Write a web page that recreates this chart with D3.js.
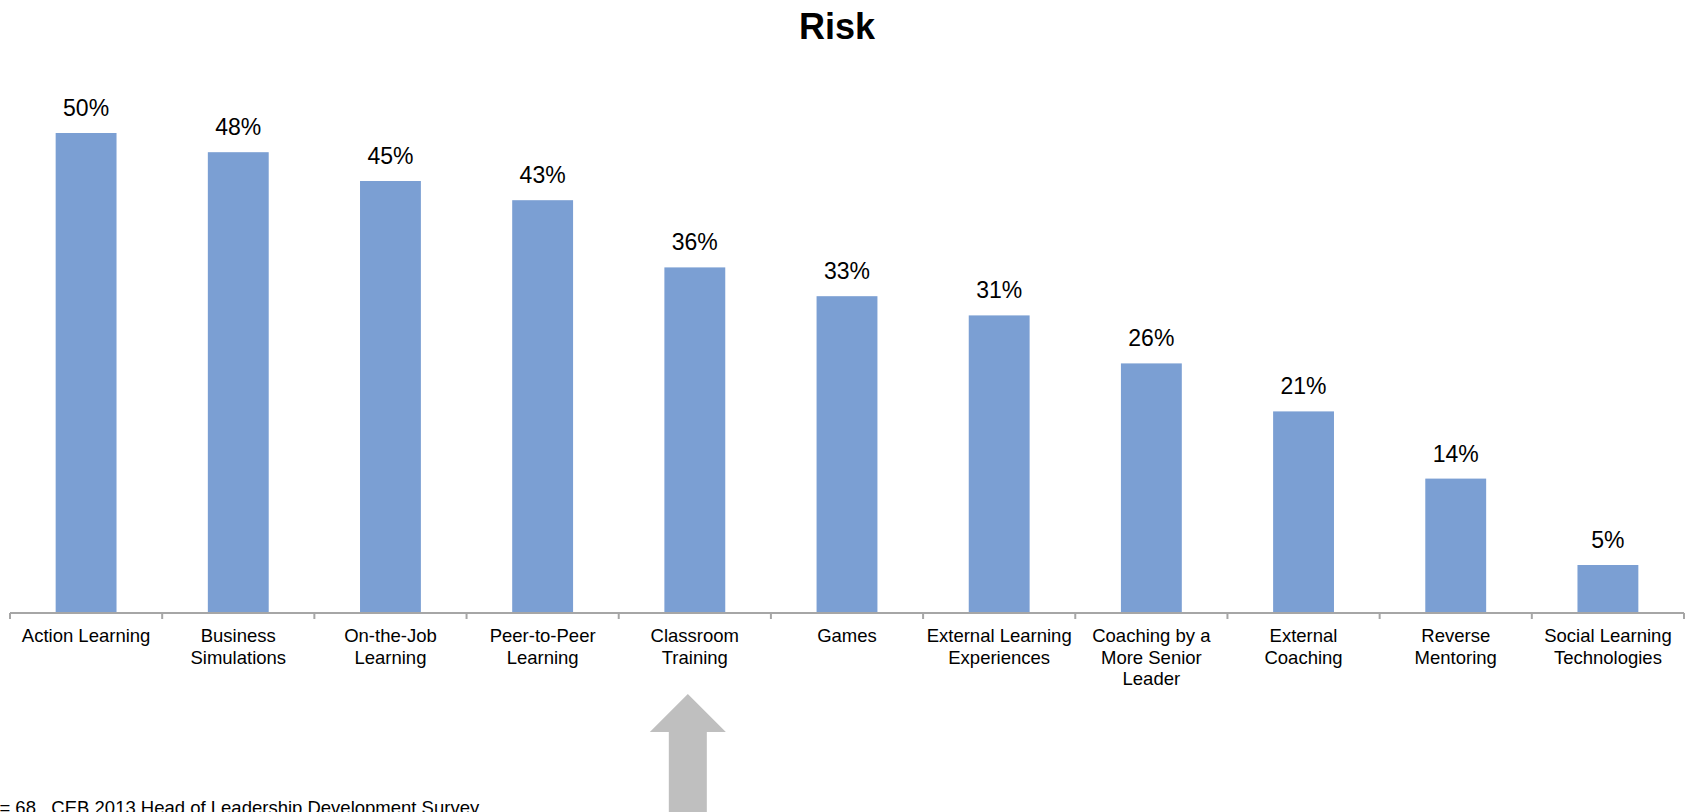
<!DOCTYPE html>
<html>
<head>
<meta charset="utf-8">
<script src="https://cdn.jsdelivr.net/npm/d3@7/dist/d3.min.js"></script>
<style>
  html, body { margin: 0; padding: 0; background: #ffffff; overflow: hidden; }
  svg { display: block; font-family: "Liberation Sans", Arial, sans-serif; }
</style>
</head>
<body>
<svg id="chart" width="1689" height="812"></svg>
<script>
// Learning approaches (multi-line labels split on "\n")
const categories = [
  "Action Learning",
  "Business\nSimulations",
  "On-the-Job\nLearning",
  "Peer-to-Peer\nLearning",
  "Classroom\nTraining",
  "Games",
  "External Learning\nExperiences",
  "Coaching by a\nMore Senior\nLeader",
  "External\nCoaching",
  "Reverse\nMentoring",
  "Social Learning\nTechnologies"
];
// Share of respondents (%)
const riskValues = [50, 48, 45, 43, 36, 33, 31, 26, 21, 14, 5];
const titleText = "Risk";
const footnoteText = "n = 68   CEB 2013 Head of Leadership Development Survey";
const highlighted = "Classroom\nTraining";

const svg = d3.select("#chart");

const x = d3.scaleBand().domain(categories).range([10, 1684]).padding(0);
const y = d3.scaleLinear().domain([0, 60]).range([613, 37]);
const barWidth = x.bandwidth() * 0.4;

// Title
svg.append("text")
  .attr("x", 837).attr("y", 39)
  .attr("text-anchor", "middle")
  .attr("font-size", 36).attr("font-weight", "bold")
  .attr("fill", "#000")
  .text(titleText);

// Bars
svg.append("g").selectAll("rect")
  .data(categories)
  .join("rect")
  .attr("x", (d) => x(d) + (x.bandwidth() - barWidth) / 2)
  .attr("y", (d, i) => y(riskValues[i]))
  .attr("width", barWidth)
  .attr("height", (d, i) => y(0) - y(riskValues[i]))
  .attr("fill", "#7b9fd3");

// Value labels
svg.append("g").selectAll("text")
  .data(categories)
  .join("text")
  .attr("x", (d) => x(d) + x.bandwidth() / 2)
  .attr("y", (d, i) => y(riskValues[i]) - 17)
  .attr("text-anchor", "middle")
  .attr("font-size", 23)
  .attr("fill", "#000")
  .text((d, i) => riskValues[i] + "%");

// Category axis: baseline with ticks at band boundaries
const axisG = svg.append("g").attr("stroke", "#a6a6a6").attr("stroke-width", 2);
const [x0, x1] = x.range();
axisG.append("line")
  .attr("x1", x0).attr("x2", x1)
  .attr("y1", y(0)).attr("y2", y(0));
const bounds = categories.map((d) => x(d)).concat([x1]);
axisG.selectAll("line.tick")
  .data(bounds)
  .join("line")
  .attr("class", "tick")
  .attr("x1", (d) => d).attr("x2", (d) => d)
  .attr("y1", y(0)).attr("y2", y(0) + 6);

// Category labels
const labels = svg.append("g").selectAll("text")
  .data(categories)
  .join("text")
  .attr("x", (d) => x(d) + x.bandwidth() / 2)
  .attr("y", y(0) + 29)
  .attr("text-anchor", "middle")
  .attr("font-size", 18.5)
  .attr("fill", "#000");
labels.selectAll("tspan")
  .data((d) => d.split("\n").map((line) => ({ line, cx: x(d) + x.bandwidth() / 2 })))
  .join("tspan")
  .attr("x", (d) => d.cx)
  .attr("dy", (d, i) => (i === 0 ? 0 : 21.5))
  .text((d) => d.line);

// Highlight arrow pointing up at the highlighted category
const ax = x(highlighted) + x.bandwidth() / 2 - 7;
const tipY = 694, headY = 732, headHalf = 38, shaftHalf = 19;
svg.append("path")
  .attr("d", `M${ax},${tipY} L${ax + headHalf},${headY} L${ax + shaftHalf},${headY} L${ax + shaftHalf},830 L${ax - shaftHalf},830 L${ax - shaftHalf},${headY} L${ax - headHalf},${headY} Z`)
  .attr("fill", "#bfbfbf");

// Footnote
svg.append("text")
  .attr("x", -16).attr("y", 814)
  .attr("font-size", 18.5)
  .attr("fill", "#000")
  .style("white-space", "pre")
  .text(footnoteText);
</script>
</body>
</html>
